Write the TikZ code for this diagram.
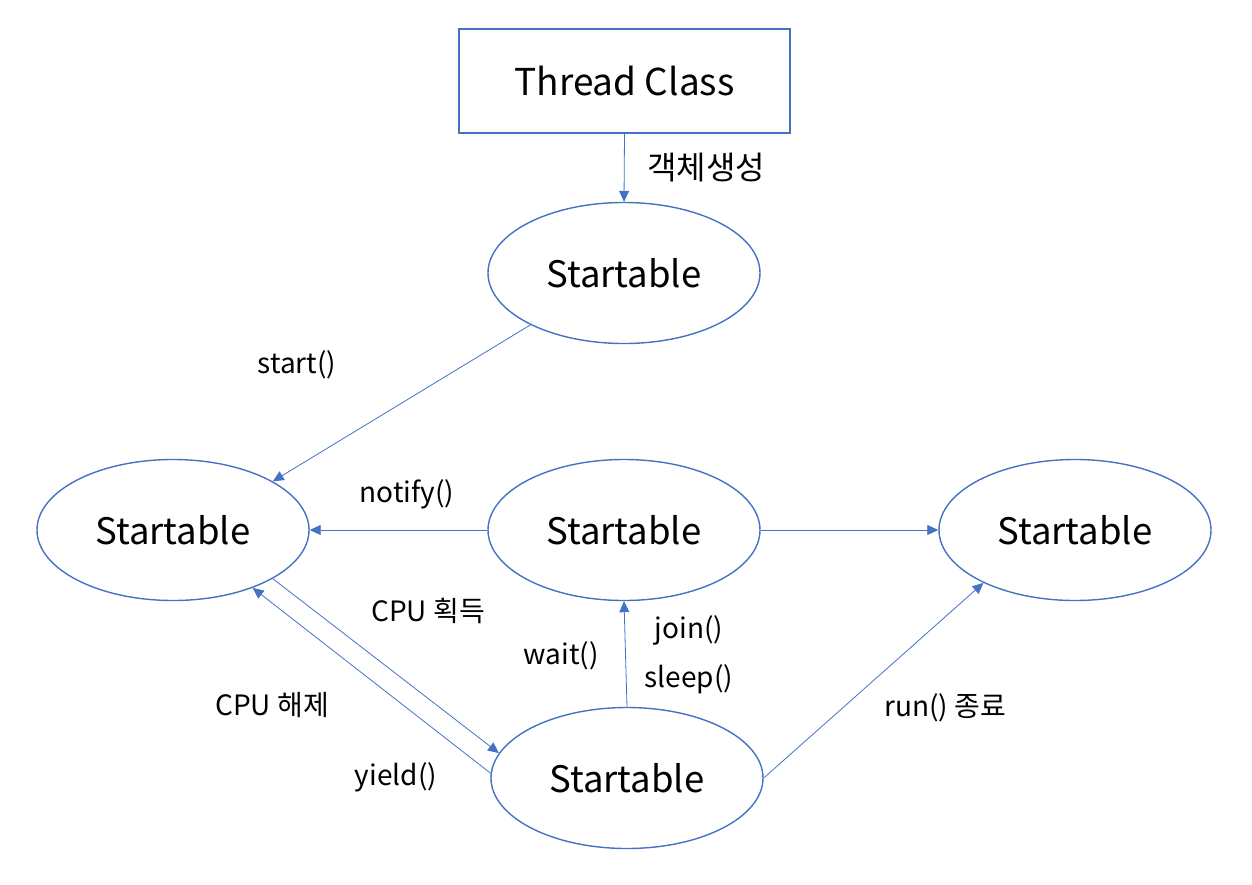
\documentclass[tikz,border=0pt]{standalone}
\usepackage{fontspec}
\setmainfont{Noto Sans CJK KR}
\usetikzlibrary{arrows.meta,shapes.geometric}
\definecolor{lineblue}{HTML}{4472C4}
\tikzset{
  state/.style={draw=lineblue, line width=1.4pt, ellipse, minimum width=272pt, minimum height=141pt, inner sep=0pt, font=\fontsize{36.5}{42}\selectfont},
  classbox/.style={draw=lineblue, line width=1.6pt, rectangle, minimum width=331pt, minimum height=104pt, inner sep=0pt, font=\fontsize{37}{42}\selectfont},
  conn/.style={draw=lineblue, line width=0.8pt, -{Triangle[length=11pt,width=10pt]}},
  lbl/.style={font=\fontsize{28}{32}\selectfont, inner sep=0pt},
  biglbl/.style={font=\fontsize{32}{36}\selectfont, inner sep=0pt}
}
\begin{document}
\begin{tikzpicture}[x=1pt,y=-1pt]
\useasboundingbox (0,0) rectangle (1252,884);
\node[classbox] (cls) at (624.5,81) {Thread Class};
\node[state] (new) at (624,273) {Startable};
\node[state] (run) at (173,530) {Startable};
\node[state] (blk) at (624,530) {Startable};
\node[state] (dead) at (1075,530) {Startable};
\node[state] (exe) at (627,778) {Startable};

\draw[conn] (cls.south) -- (new.north);
\node[biglbl] (l1) at (706,168) {객체생성};

\draw[conn] (new.-151.8) -- (run.26.8);
\node[lbl] (l2) at (297,365) {start()};

\draw[conn] (blk.west) -- (run.east);
\node[lbl] (l3) at (407,494) {notify()};

\draw[conn] (blk.east) -- (dead.west);

\draw[conn] (run.-26.1) -- (exe.169.8);
\node[lbl] (l4) at (428,611) {CPU 획득};

\draw[conn] (exe.178.7) -- (run.-36.2);
\node[lbl] (l5) at (272,705) {CPU 해제};
\node[lbl] (l6) at (396,777) {yield()};

\draw[conn] (exe.north) -- (blk.south);
\node[lbl] (l7) at (561,656) {wait()};
\node[lbl] (l8) at (689,630) {join()};
\node[lbl] (l9) at (689,679) {sleep()};

\draw[conn] (exe.east) -- (dead.-150.3);
\node[lbl] (l10) at (945,708) {run() 종료};
\end{tikzpicture}
\end{document}
